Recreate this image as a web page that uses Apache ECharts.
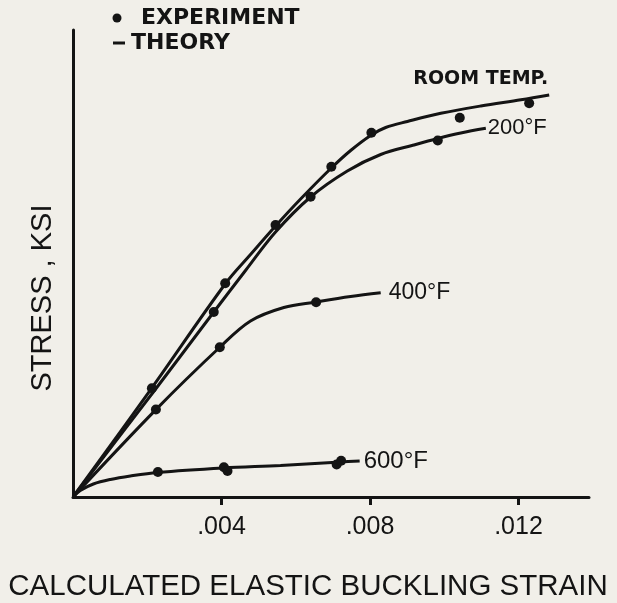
<!DOCTYPE html>
<html>
<head>
<meta charset="utf-8">
<script src="https://cdn.jsdelivr.net/npm/echarts@6/dist/echarts.min.js"></script>
<style>
html,body{margin:0;padding:0;background:#f1efe9;}
#chart{width:617px;height:603px;}
</style>
</head>
<body>
<div id="chart"></div>
<script>
// ---- data (strain, stress in arbitrary ksi units) ----
const xTickValues = [0.004, 0.008, 0.012];
const xTickLabels = ['.004', '.008', '.012'];

const roomTheory = [[0,0],[0.002112,23.23],[0.004108,45.72],[0.004782,51.93],[0.005456,58.03],[0.006131,63.81],[0.006959,70.45],[0.007479,74.20],[0.008038,77.52],[0.008423,79.12],[0.009009,80.41],[0.009907,82.16],[0.010986,83.73],[0.012065,85.05],[0.012828,86.08]];
const f200Theory = [[0,0],[0.002247,23.34],[0.003792,39.61],[0.004647,48.50],[0.005456,56.75],[0.006400,64.24],[0.007390,69.81],[0.008289,73.34],[0.009179,75.37],[0.009826,76.77],[0.010446,77.94],[0.011121,78.95]];
const f400Theory = [[0,0],[0.002233,18.72],[0.003954,32.06],[0.004782,37.69],[0.005680,40.58],[0.006549,41.76],[0.007479,42.93],[0.008289,43.75]];
const f600Theory = [[0,0],[0.000197,1.39],[0.000548,2.78],[0.001006,3.75],[0.001545,4.50],[0.002274,5.25],[0.004054,6.21],[0.005591,6.75],[0.007210,7.49],[0.007722,7.71]];

const roomExp = [[0.002125,23.28],[0.004100,45.76],[0.005456,58.24],[0.006959,70.73],[0.008038,78.01],[0.010419,81.22],[0.012288,84.30]];
const f200Exp = [[0.003792,39.61],[0.006400,64.30],[0.009826,76.34]];
const f400Exp = [[0.002233,18.72],[0.003954,32.06],[0.006549,41.69]];
const f600Exp = [[0.002287,5.35],[0.004065,6.38],[0.004162,5.57],[0.007102,6.96],[0.007223,7.75]];

const curveNames = ['ROOM TEMP.', '200°F', '400°F', '600°F'];
const legendTexts = ['EXPERIMENT', 'THEORY'];

// ---- chart ----
const INK = '#141414';
const chart = echarts.init(document.getElementById('chart'), null, {renderer:'canvas'});

function theory(data, label, labelOpt) {
  return {
    type: 'line', data: data, smooth: 0.35, showSymbol: false, silent: true,
    lineStyle: {color: INK, width: 3},
    endLabel: Object.assign({show: !!label, formatter: label, color: INK,
      fontFamily: 'Liberation Sans', fontSize: 23, distance: 4}, labelOpt || {}),
    z: 2
  };
}
function exp(data) {
  return {type: 'scatter', data: data, symbol: 'circle', symbolSize: 10,
    itemStyle: {color: INK, opacity: 1}, silent: true, z: 3};
}

chart.setOption({
  animation: false,
  backgroundColor: '#f1efe9',
  grid: {left: 73, right: 28, top: 30, bottom: 106, containLabel: false, outerBoundsMode: 'none'},
  xAxis: {
    type: 'value', min: 0, max: 0.0139,
    splitLine: {show: false},
    axisLine: {lineStyle: {color: INK, width: 3}},
    axisTick: {show: true, inside: false, length: 8, lineStyle: {color: INK, width: 3}, customValues: xTickValues},
    axisLabel: {customValues: xTickValues, margin: 18, color: INK, fontSize: 25, fontFamily: 'Liberation Sans',
      formatter: function (v) { const i = xTickValues.findIndex(t => Math.abs(t - v) < 1e-9); return i >= 0 ? xTickLabels[i] : ''; }},
    name: 'CALCULATED ELASTIC BUCKLING STRAIN',
    nameLocation: 'middle', nameGap: 75,
    nameTextStyle: {color: INK, fontSize: 29.5, fontFamily: 'Liberation Sans', padding: [0, 46, 0, 0]}
  },
  yAxis: {
    type: 'value', min: 0, max: 100,
    splitLine: {show: false},
    axisLine: {show: true, lineStyle: {color: INK, width: 3}},
    axisTick: {show: false},
    axisLabel: {show: false},
    name: 'STRESS , KSI',
    nameLocation: 'middle', nameGap: 16,
    nameTextStyle: {color: INK, fontSize: 29, fontFamily: 'Liberation Sans', padding: [0, 69, 0, 0]}
  },
  graphic: [
    {type: 'circle', shape: {cx: 117, cy: 18, r: 4.5}, style: {fill: INK}},
    {type: 'text', x: 141, y: 18, style: {text: legendTexts[0], fill: INK, font: 'bold 22px "DejaVu Sans"', textVerticalAlign: 'middle'}},
    {type: 'rect', shape: {x: 113, y: 41.5, width: 12, height: 3}, style: {fill: INK}},
    {type: 'text', x: 131, y: 43, style: {text: legendTexts[1], fill: INK, font: 'bold 22px "DejaVu Sans"', textVerticalAlign: 'middle'}}
  ],
  series: [
    theory(roomTheory, curveNames[0], {align: 'right', verticalAlign: 'middle', distance: 0, offset: [-1, -16],
      fontFamily: 'DejaVu Sans', fontWeight: 'bold', fontSize: 19}),
    theory(f200Theory, curveNames[1], {distance: 2, fontSize: 22}),
    theory(f400Theory, curveNames[2], {distance: 8}),
    theory(f600Theory, curveNames[3], {distance: 4, fontSize: 24}),
    exp(roomExp), exp(f200Exp), exp(f400Exp), exp(f600Exp)
  ]
});
</script>
</body>
</html>
